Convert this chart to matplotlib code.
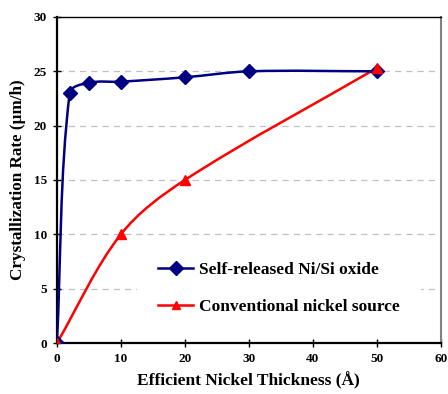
import matplotlib
matplotlib.use("Agg")
import matplotlib.pyplot as plt
import numpy as np
from matplotlib.path import Path
from matplotlib.patches import PathPatch

# data
thick_self = [0, 2, 5, 10, 20, 30, 50]
rate_self = [0, 23.0, 23.95, 24.05, 24.45, 25.0, 25.0]
thick_conv = [0, 10, 20, 50]
rate_conv = [0, 10.0, 15.0, 25.3]

x_ticks = [0, 10, 20, 30, 40, 50, 60]
y_ticks = [0, 5, 10, 15, 20, 25, 30]

NAVY = "#000080"
RED = "#ff0000"

plt.rcParams["font.family"] = ["Liberation Serif", "DejaVu Serif"]
plt.rcParams["font.weight"] = "bold"

# rough px-per-unit of the plot area, so smoothing looks right on screen
SX, SY = 6.4, 10.87


def smooth_path(xs, ys):
    # Excel-like smoothed line: cubic Beziers, tangent length tied to segment length
    pts = np.column_stack([np.asarray(xs, float) * SX, np.asarray(ys, float) * SY])
    n = len(pts)
    tang = []
    for i in range(n):
        d = pts[min(i + 1, n - 1)] - pts[max(i - 1, 0)]
        tang.append(d / np.linalg.norm(d))
    verts = [pts[0]]
    codes = [Path.MOVETO]
    for i in range(n - 1):
        seg = np.linalg.norm(pts[i + 1] - pts[i])
        verts += [pts[i] + tang[i] * seg / 3, pts[i + 1] - tang[i + 1] * seg / 3, pts[i + 1]]
        codes += [Path.CURVE4] * 3
    verts = np.array(verts) / [SX, SY]
    return Path(verts, codes)


fig = plt.figure(figsize=(4.48, 3.94), dpi=100)
ax = fig.add_axes([0.127, 0.1294, 0.857, 0.8275])

for yv in y_ticks[1:-1]:
    ax.axhline(yv, color="#c0c0c0", lw=0.9, ls=(0, (5, 4)), zorder=0)

ax.add_patch(PathPatch(smooth_path(thick_conv, rate_conv), fc="none", ec=RED, lw=1.8, zorder=2))
ax.add_patch(PathPatch(smooth_path(thick_self, rate_self), fc="none", ec=NAVY, lw=1.8, zorder=3))
ax.plot(thick_self, rate_self, ls="none", marker="D", ms=7.5, color=NAVY, zorder=4)
ax.plot(thick_conv, rate_conv, ls="none", marker="^", ms=7, color=RED, zorder=5)

# legend proxies
ax.plot([], [], color=NAVY, lw=1.8, marker="D", ms=7.5, label="Self-released Ni/Si oxide")
ax.plot([], [], color=RED, lw=1.8, marker="^", ms=6, label="Conventional nickel source")
leg = ax.legend(loc="center left", bbox_to_anchor=(0.187, 0.166), frameon=True,
                fancybox=False, edgecolor="none", facecolor="white", framealpha=1,
                prop={"family": "Liberation Serif", "weight": "bold", "size": 12.5},
                handlelength=2.0, labelspacing=1.2, borderpad=1.2, handletextpad=0.35)

ax.set_xlim(0, 60)
ax.set_ylim(0, 30)
ax.set_xticks(x_ticks)
ax.set_yticks(y_ticks)
ax.tick_params(direction="inout", length=6, width=1, labelsize=9.5, pad=4)
for lab in ax.get_xticklabels() + ax.get_yticklabels():
    lab.set_fontweight("bold")

ax.spines["left"].set_linewidth(1.6)
ax.spines["bottom"].set_linewidth(1.6)
ax.spines["top"].set_linewidth(1.0)
ax.spines["right"].set_color("#808080")
ax.spines["right"].set_linewidth(1.5)

ax.set_xlabel("Efficient Nickel Thickness (Å)", fontsize=12.5, fontweight="bold", labelpad=5)
ax.set_ylabel("Crystallization Rate (µm/h)", fontsize=12.3, fontweight="bold", labelpad=6)

fig.savefig("out.png", dpi=100)
